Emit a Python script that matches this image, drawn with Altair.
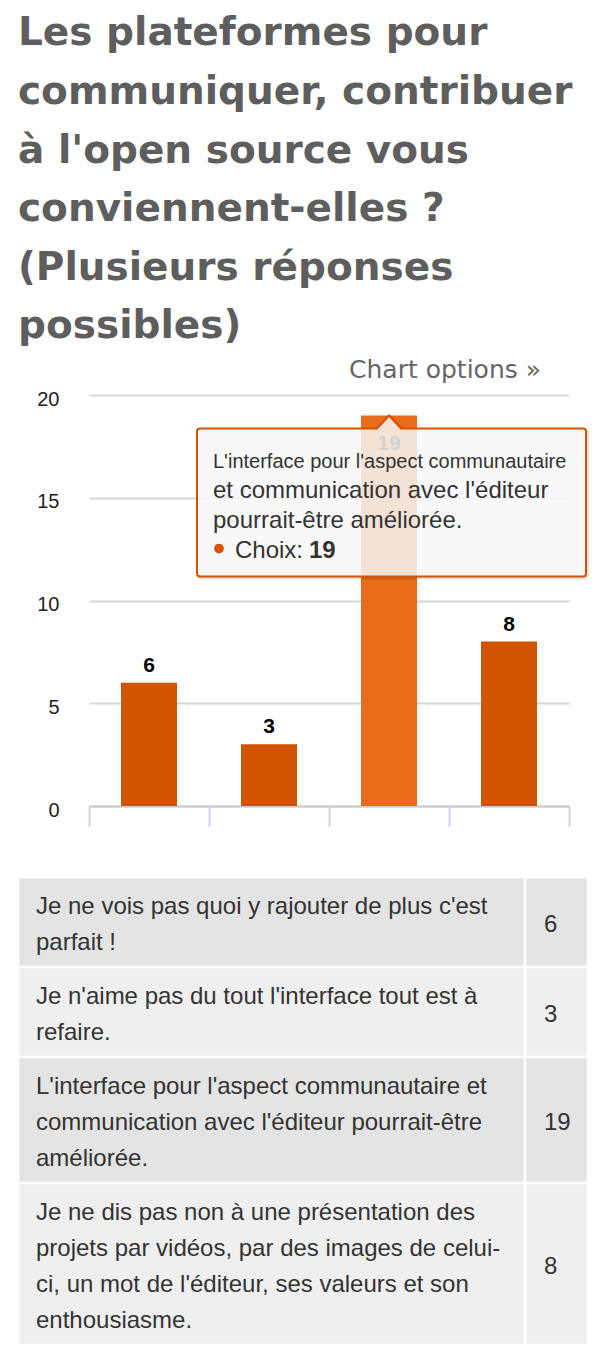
import altair as alt
import pandas as pd

# ---------------- data ----------------
TITLE_LINES = [
    "Les plateformes pour",
    "communiquer, contribuer",
    "à l'open source vous",
    "conviennent-elles ?",
    "(Plusieurs réponses",
    "possibles)",
]
CATEGORIES = [
    "Je ne vois pas quoi y rajouter de plus c'est parfait !",
    "Je n'aime pas du tout l'interface tout est à refaire.",
    "L'interface pour l'aspect communautaire et communication avec l'éditeur pourrait-être améliorée.",
    "Je ne dis pas non à une présentation des projets par vidéos, par des images de celui-ci, un mot de l'éditeur, ses valeurs et son enthousiasme.",
]
VALUES = [6, 3, 19, 8]
Y_TICKS = [0, 5, 10, 15, 20]
SERIES_NAME = "Choix"
CHART_OPTIONS = "Chart options »"
HOVERED = CATEGORIES[2]
TOOLTIP_HEADER = "L'interface pour l'aspect communautaire"
TOOLTIP_LINES = ["et communication avec l'éditeur", "pourrait-être améliorée."]
TABLE_LINES = [
    ["Je ne vois pas quoi y rajouter de plus c'est", "parfait !"],
    ["Je n'aime pas du tout l'interface tout est à", "refaire."],
    ["L'interface pour l'aspect communautaire et",
     "communication avec l'éditeur pourrait-être", "améliorée."],
    ["Je ne dis pas non à une présentation des",
     "projets par vidéos, par des images de celui-",
     "ci, un mot de l'éditeur, ses valeurs et son", "enthousiasme."],
]

# ---------------- style / layout ----------------
ORANGE = "#d35400"
ORANGE_HOVER = "#e96c1b"
TEXT_FONT = "Liberation Sans"
PLOT_W, PLOT_H = 480, 411
AXIS_EXTENT = 71          # room left of the plot for the y labels
TABLE_W = 570
TITLE_LINE_PX = 58.6
LABEL_ROOM = 1.3          # value units needed above a bar for its label
COL_SPLIT = 507 / 570     # fraction of the table width for the first column
ROW_PAD = 0.5             # row padding, in text lines
TEXT_TOP = 0.33
LINE_PX = 36

# tooltip outline (pixels, relative to the hovered point)
BOX_PATH = ("M-189,13 L-12,13 L0,0 L12,13 L194,13 A3,3 0 0 1 197,16 "
            "L197,158 A3,3 0 0 1 194,161 L-189,161 A3,3 0 0 1 -192,158 "
            "L-192,16 A3,3 0 0 1 -189,13 Z")

# horizontal scale shared by the title and the table: 0..1 spans the page column
page_x = alt.Scale(domain=[0, 1], nice=False, zero=False,
                   range=[-AXIS_EXTENT, TABLE_W - AXIS_EXTENT])

# ---------------- title panel ----------------
title_df = pd.DataFrame({
    "line": TITLE_LINES,
    "pos": [i + 0.5 for i in range(len(TITLE_LINES))],
    "left": [0.0] * len(TITLE_LINES),
})
title_panel = alt.Chart(title_df).mark_text(
    align="left", baseline="middle", font="DejaVu Sans", fontSize=39,
    fontWeight="bold", color="#5e5e5e",
).encode(
    x=alt.X("left:Q", axis=None, scale=page_x),
    y=alt.Y("pos:Q", axis=None,
            scale=alt.Scale(domain=[0, len(TITLE_LINES)], reverse=True, nice=False, zero=False)),
    text="line:N",
).properties(width=PLOT_W, height=len(TITLE_LINES) * TITLE_LINE_PX)

# ---------------- chart panel ----------------
bars_df = pd.DataFrame({
    "cat": CATEGORIES,
    "value": VALUES,
    "hover": [c == HOVERED for c in CATEGORIES],
})
base = alt.Chart(bars_df)

x_enc = alt.X(
    "cat:N", sort=None,
    scale=alt.Scale(paddingInner=0, paddingOuter=0),
    axis=alt.Axis(title=None, labels=False, tickBand="extent", grid=False,
                  domainColor="#cccccc", domainWidth=2,
                  tickColor="#ccd6eb", tickWidth=2, tickSize=20),
)
y_enc = alt.Y(
    "value:Q",
    scale=alt.Scale(domain=[0, 20], nice=False),
    axis=alt.Axis(title=None, values=Y_TICKS, grid=True, gridColor="#d6d6d6",
                  gridWidth=2, domain=False, ticks=False, tickSize=0,
                  labelPadding=30, labelFont=TEXT_FONT, labelFontSize=20,
                  labelColor="#222222", labelOffset=4, minExtent=AXIS_EXTENT),
)
x_plain = alt.X("cat:N", sort=None)
y_plain = alt.Y("value:Q")

bars = base.mark_bar(width=alt.RelativeBandSize(56 / 120)).encode(
    x=x_enc, y=y_enc,
    color=alt.condition("datum.hover", alt.value(ORANGE_HOVER), alt.value(ORANGE)),
)

label_style = dict(font=TEXT_FONT, fontSize=21, fontWeight="bold", color="#000000",
                   baseline="alphabetic")
labels_out = base.transform_filter(
    f"datum.value + {LABEL_ROOM} <= 20"
).mark_text(dy=-11, **label_style).encode(x=x_plain, y=y_plain, text="value:Q")
labels_in = base.transform_filter(
    f"datum.value + {LABEL_ROOM} > 20"
).mark_text(dy=34, **label_style).encode(x=x_plain, y=y_plain, text="value:Q")

tip = base.transform_filter("datum.hover")
tip_shadow = tip.mark_point(
    shape=BOX_PATH, size=4, filled=False, opacity=1, xOffset=1.5, yOffset=1.5,
    stroke="#000000", strokeOpacity=0.12, strokeWidth=3,
).encode(x=x_plain, y=y_plain)
tip_box = tip.mark_point(
    shape=BOX_PATH, size=4, filled=True, opacity=1,
    fill="#f7f7f7", fillOpacity=0.85, stroke=ORANGE, strokeWidth=2,
).encode(x=x_plain, y=y_plain)
tip_dot = tip.mark_point(
    shape="circle", size=95, filled=True, opacity=1, color=ORANGE,
    xOffset=-170, yOffset=133,
).encode(x=x_plain, y=y_plain)


def tip_text(text, dx, dy, size=24, weight="normal", color="#333333"):
    return tip.mark_text(
        align="left", baseline="alphabetic", dx=dx, dy=dy, font=TEXT_FONT,
        fontSize=size, fontWeight=weight, color=color,
    ).encode(x=x_plain, y=y_plain, text=text)


tip_texts = [
    tip_text(alt.value(TOOLTIP_HEADER), -176, 52, size=20),
    tip_text(alt.value(TOOLTIP_LINES[0]), -176, 82),
    tip_text(alt.value(TOOLTIP_LINES[1]), -176, 112),
    tip_text(alt.value(SERIES_NAME + ":"), -154, 142),
    tip_text(alt.Text("value:Q"), -80, 142, weight="bold"),
]

chart_panel = alt.layer(
    bars, labels_out, labels_in, tip_shadow, tip_box, tip_dot, *tip_texts
).properties(
    width=PLOT_W, height=PLOT_H,
    title=alt.TitleParams(
        CHART_OPTIONS, anchor="end", frame="group", dx=-28, offset=6,
        font="DejaVu Sans", fontSize=25, fontWeight="normal", color="#666666",
    ),
)

# ---------------- table panel ----------------
cells, lines_rows, nums = [], [], []
start = 0.0
for i, (lines, val) in enumerate(zip(TABLE_LINES, VALUES)):
    h = len(lines) + ROW_PAD
    cells.append(dict(row=i, x0=0.0, x1=COL_SPLIT, y0=start, y1=start + h))
    cells.append(dict(row=i, x0=COL_SPLIT, x1=1.0, y0=start, y1=start + h))
    for j, line in enumerate(lines):
        lines_rows.append(dict(row=i, x=0.0, y=start + TEXT_TOP + j + 0.5, text=line))
    nums.append(dict(row=i, x=COL_SPLIT, y=start + h / 2 + 0.08, text=str(val)))
    start += h
TOTAL = start

ty = alt.Scale(domain=[0, TOTAL], nice=False, zero=False, reverse=True)

cell_layer = alt.Chart(pd.DataFrame(cells)).mark_rect(
    stroke="#ffffff", strokeWidth=2.5
).encode(
    x=alt.X("x0:Q", scale=page_x, axis=None), x2="x1",
    y=alt.Y("y0:Q", scale=ty, axis=None), y2="y1",
    color=alt.condition("datum.row % 2 == 0", alt.value("#e4e4e4"), alt.value("#efefef")),
)
text_style = dict(align="left", baseline="middle", font=TEXT_FONT, fontSize=24,
                  color="#333333")
line_layer = alt.Chart(pd.DataFrame(lines_rows)).mark_text(dx=18, **text_style).encode(
    x=alt.X("x:Q", scale=page_x, axis=None), y=alt.Y("y:Q", scale=ty, axis=None), text="text:N"
)
num_layer = alt.Chart(pd.DataFrame(nums)).mark_text(dx=19, **text_style).encode(
    x=alt.X("x:Q", scale=page_x, axis=None), y=alt.Y("y:Q", scale=ty, axis=None), text="text:N"
)
table_panel = alt.layer(cell_layer, line_layer, num_layer).properties(
    width=PLOT_W, height=TOTAL * LINE_PX
)

# ---------------- page ----------------
upper = alt.vconcat(title_panel, chart_panel, spacing=2)
chart = alt.vconcat(upper, table_panel, spacing=48).properties(
    padding={"left": 16, "top": 4, "right": 0, "bottom": 0},
).configure_view(strokeWidth=0)

chart.save("out.html", embed_options={"renderer": "svg", "actions": False})
